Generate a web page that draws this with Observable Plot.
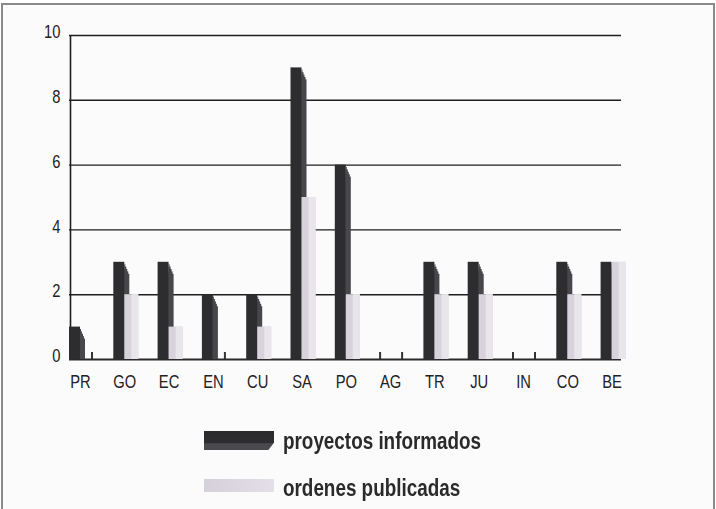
<!DOCTYPE html>
<html>
<head>
<meta charset="utf-8">
<script src="https://cdn.jsdelivr.net/npm/d3@7"></script>
<script src="https://cdn.jsdelivr.net/npm/@observablehq/plot@0.6"></script>
<style>
  html, body { margin: 0; padding: 0; background: #ffffff; }
  body { width: 716px; height: 509px; position: relative; overflow: hidden; }
  #frame { position: absolute; left: 1px; top: 3px; width: 710px; height: 520px;
           border: 2px solid #8a8a8a; background: #fbfbfb; }
  #chart { position: absolute; left: 0; top: 0; }
  .leg { position: absolute; left: 283px; font-family: 'Liberation Sans', Arial, Helvetica, sans-serif;
         font-weight: bold; font-size: 23px; line-height: 23px; color: #2a2a2a; white-space: nowrap;
         transform: scaleX(0.82); transform-origin: 0 0; }
  .sw { position: absolute; left: 204px; width: 70px; }
  #sw1 { top: 431px; height: 19px; background: linear-gradient(#2a2a2c 0%, #2e2e30 65%, #4a4a4e 66%, #4a4a4e 100%);
         clip-path: polygon(0 0, 100% 0, 100% 62%, 92% 100%, 0 100%); }
  #sw2 { top: 479px; height: 13px; background: linear-gradient(90deg, #d6d0da 0%, #ddd8e1 60%, #e4e0e8 100%); filter: blur(0.6px); }
</style>
</head>
<body>
<div id="frame"></div>
<div id="chart"></div>
<div class="sw" id="sw1"></div>
<div class="leg" id="lg1" style="top:430px">proyectos informados</div>
<div class="sw" id="sw2"></div>
<div class="leg" id="lg2" style="top:477px">ordenes publicadas</div>
<script>
const categories = ["PR","GO","EC","EN","CU","SA","PO","AG","TR","JU","IN","CO","BE"];
const proyectos = [1,3,3,2,2,9,6,0,3,3,0,3,3];
const ordenes   = [0,2,1,0,1,5,2,0,2,2,0,2,3];
const yTicks = [0,2,4,6,8,10];
const seriesNames = ["proyectos informados","ordenes publicadas"];

const data = categories.map((c, i) => ({cat: c, p: proyectos[i], o: ordenes[i]}));

const darkFace = "#2d2d30";
const darkSide = "#47474c";

// staircase for the slanted side face of dark bars
const sideMarks = [0,1,2,3,4].map(k =>
  Plot.barY(data.filter(d => d.p > 0), {
    x: "cat", y: "p", fill: darkSide,
    insetLeft: 11, insetRight: 9 + k, insetTop: 12 - 2.4 * k
  })
);

const chart = Plot.plot({
  width: 716,
  height: 405,
  marginLeft: 69,
  marginRight: 90.4,
  marginTop: 35,
  marginBottom: 46,
  style: {
    fontFamily: "'Liberation Sans', Arial, Helvetica, sans-serif",
    fontSize: "18px",
    background: "transparent",
    color: "#222",
    overflow: "visible"
  },
  x: {type: "band", domain: categories, paddingInner: 0.4357, paddingOuter: 0, align: 0, round: false, axis: null},
  y: {domain: [0, 10], axis: null},
  marks: [
    Plot.ruleY(yTicks.filter(t => t > 0), {stroke: "#1e1e1e", strokeWidth: 1.4, insetRight: 4.6}),
    Plot.ruleY([0], {stroke: "#2a2a2a", strokeWidth: 2.2, insetRight: 4.6}),
    Plot.ruleX([categories[0]], {stroke: "#1e1e1e", strokeWidth: 1.6, dx: -11.5}),
    ...sideMarks,
    Plot.barY(data, {x: "cat", y: "p", fill: darkFace, insetRight: 14}),
    Plot.barY(data.filter(d => d.p === 0), {x: "cat", y: "p", fill: "#333", insetLeft: 0, insetRight: 23, insetTop: -7}),
    Plot.barY(data.filter(d => d.o > 0), {x: "cat", y: "o", fill: "#d8d2dc", insetLeft: 11}),
    Plot.barY(data.filter(d => d.o > 0), {x: "cat", y: "o", fill: "#e8e5eb", insetLeft: 18}),
    Plot.barY(data.filter(d => d.o === 0), {x: "cat", y: "o", fill: "#333", insetLeft: 22, insetRight: 1, insetTop: -7}),
    Plot.axisY(yTicks, {tickSize: 0, tickPadding: 9, dy: -3, label: null, fill: "#222"}),
    Plot.axisX({tickSize: 0, tickPadding: 16, dx: -1.5, label: null, fill: "#222"})
  ]
});
// narrow the tick label glyphs horizontally (reference uses a condensed face)
d3.select(chart).selectAll("g[aria-label$='tick label'] text").each(function() {
  const t = this.getAttribute("transform") || "";
  this.setAttribute("transform", (t + " scale(0.82,1)").trim());
});
document.getElementById("chart").appendChild(chart);
</script>
</body>
</html>
